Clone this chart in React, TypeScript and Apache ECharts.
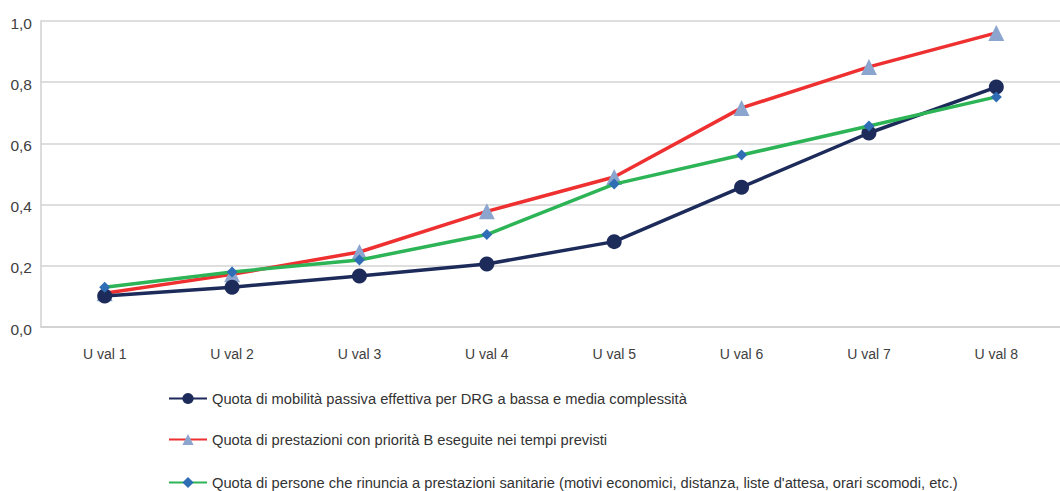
import React, { useEffect, useRef } from "react";
import * as echarts from "echarts";

const categories = ["U val 1", "U val 2", "U val 3", "U val 4", "U val 5", "U val 6", "U val 7", "U val 8"];
const mobilita = [0.101, 0.13, 0.167, 0.206, 0.279, 0.457, 0.634, 0.784];
const prioritaB = [0.11, 0.172, 0.245, 0.378, 0.49, 0.716, 0.85, 0.961];
const rinuncia = [0.13, 0.18, 0.219, 0.302, 0.467, 0.562, 0.657, 0.752];
const seriesNames = [
  "Quota di mobilità passiva effettiva per DRG a bassa e media complessità",
  "Quota di prestazioni con priorità B eseguite nei tempi previsti",
  "Quota di persone che rinuncia a prestazioni sanitarie (motivi economici, distanza, liste d'attesa, orari scomodi, etc.)",
];
const legendCenters = [398, 439, 482];

const FONT = "'Liberation Sans', Arial, sans-serif";

export default function App() {
  const ref = useRef<HTMLDivElement>(null);
  useEffect(() => {
    if (!ref.current) return;
    const chart = echarts.init(ref.current, undefined, { renderer: "svg" });
    chart.setOption({
      animation: false,
      textStyle: { fontFamily: FONT },
      grid: { left: 41, top: 21, width: 1027, height: 306 },
      xAxis: {
        type: "category",
        data: categories,
        boundaryGap: true,
        axisLine: { lineStyle: { color: "#d0d0d0", width: 1.5 } },
        axisTick: { show: false },
        axisLabel: { color: "#404040", fontSize: 14, fontFamily: FONT, margin: 20 },
      },
      yAxis: {
        type: "value",
        min: 0,
        max: 1,
        interval: 0.2,
        axisLine: { show: true, lineStyle: { color: "#d0d0d0", width: 1.5 } },
        axisTick: { show: false },
        splitLine: { lineStyle: { color: "#d3d3d3", width: 1.5 } },
        axisLabel: {
          color: "#404040",
          fontSize: 15.5,
          fontFamily: FONT,
          margin: 9,
          verticalAlign: "top",
          padding: [-6, 0, 0, 0],
          formatter: (v: number) => v.toFixed(1).replace(".", ","),
        },
      },
      legend: seriesNames.map((name, i) => ({
        orient: "vertical",
        left: 168,
        top: legendCenters[i] - 7,
        padding: 0,
        itemWidth: 38,
        itemHeight: 14,
        itemGap: 4,
        textStyle: { color: "#333333", fontSize: 14.7, fontFamily: FONT },
        data: [name],
      })),
      series: [
        {
          name: seriesNames[0],
          type: "line",
          data: mobilita,
          symbol: "circle",
          symbolSize: 15,
          lineStyle: { color: "#1d2b5b", width: 3.5 },
          itemStyle: { color: "#1d2b5b" },
          z: 3,
        },
        {
          name: seriesNames[1],
          type: "line",
          data: prioritaB,
          symbol: "triangle",
          symbolSize: 16,
          lineStyle: { color: "#ee3030", width: 3.5 },
          itemStyle: { color: "#8ca5cf" },
          z: 2,
        },
        {
          name: seriesNames[2],
          type: "line",
          data: rinuncia,
          symbol: "diamond",
          symbolSize: 11,
          lineStyle: { color: "#2db456", width: 3.5 },
          itemStyle: { color: "#2f6db5" },
          z: 4,
        },
      ],
    });
    return () => chart.dispose();
  }, []);
  return <div ref={ref} style={{ width: 1060, height: 491, position: "absolute", left: 0, top: 0 }} />;
}
